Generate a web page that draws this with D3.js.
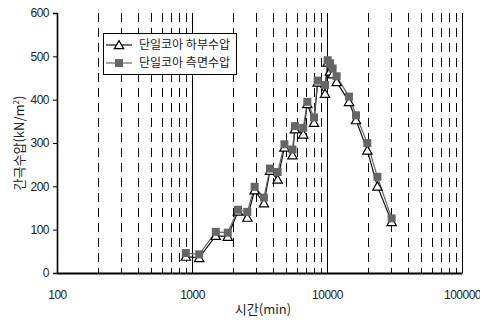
<!DOCTYPE html>
<html>
<head>
<meta charset="utf-8">
<script src="https://cdn.jsdelivr.net/npm/d3@7"></script>
<style>
	body { margin: 0; background: #fff; }
	svg text { font-family: "Liberation Sans", Arial, "Noto Sans CJK KR", sans-serif; fill: #222; }
</style>
</head>
<body>
<div class="Chart"></div>
<script>
var times = [900, 1130, 1500, 1840, 2190, 2570, 2910, 3410, 3780, 4310, 4840, 5550, 5790, 6670, 7150, 8010, 8530, 9670, 10110, 10520, 11010, 11790, 14560, 16400, 19900, 23620, 30130];
var bottomPressure = [38, 35, 86, 84, 142, 128, 191, 161, 236, 216, 290, 272, 332, 320, 390, 347, 440, 414, 486, 465, 459, 441, 395, 353, 283, 200, 118];
var sidePressure = [46, 43, 95, 93, 146, 141, 199, 174, 241, 233, 297, 285, 339, 335, 395, 359, 444, 434, 491, 484, 472, 454, 407, 364, 300, 222, 126];
var yTicks = [0, 100, 200, 300, 400, 500, 600];
var xTicks = [100, 1000, 10000, 100000];
var seriesNames = ["단일코아 하부수압", "단일코아 측면수압"];

var width = 480, height = 325;
var margin = {left: 57, right: 18, top: 13, bottom: 52};

var svg = d3.select('.Chart').append('svg')
	.attr('width', width)
	.attr('height', height);

var x = d3.scaleLog().domain([100, 100000]).range([margin.left, width - margin.right]);
var y = d3.scaleLinear().domain([0, 600]).range([height - margin.bottom, margin.top]);

//vertical grid lines, dashed for the minor ones
var gridVals = [];
[100, 1000, 10000].forEach(function(dec){
	for (var k = 2; k <= 9; k++) gridVals.push(dec * k);
});
svg.append('g').selectAll('line')
	.data(gridVals)
	.enter().append('line')
	.attr('x1', function(d){ return Math.round(x(d)) + 0.5; })
	.attr('x2', function(d){ return Math.round(x(d)) + 0.5; })
	.attr('y1', y(600))
	.attr('y2', y(0))
	.style('stroke', '#000')
	.style('stroke-width', 1)
	.style('stroke-dasharray', '9,6');

svg.append('g').selectAll('line')
	.data([1000, 10000, 100000])
	.enter().append('line')
	.attr('x1', function(d){ return Math.round(x(d)) + 0.5; })
	.attr('x2', function(d){ return Math.round(x(d)) + 0.5; })
	.attr('y1', y(600))
	.attr('y2', y(0))
	.style('stroke', '#000')
	.style('stroke-width', 1);

//axes
var yAxis = svg.append('g')
	.attr('transform', 'translate(' + margin.left + ',0)')
	.call(d3.axisLeft(y).tickValues(yTicks).tickSize(4).tickPadding(4).tickFormat(d3.format('d')));
yAxis.select('.domain').style('stroke-width', 1.6);
yAxis.selectAll('text').style('font-size', '12px').style('letter-spacing', '-0.5px');

var xAxis = svg.append('g')
	.attr('transform', 'translate(0,' + y(0) + ')')
	.call(d3.axisBottom(x).tickValues(xTicks).tickSize(0).tickPadding(17).tickFormat(d3.format('d')));
xAxis.select('.domain').style('stroke-width', 2);
xAxis.selectAll('text').style('font-size', '12px').style('letter-spacing', '-0.5px');

//series
var bottomData = times.map(function(t, i){ return {t: t, v: bottomPressure[i]}; });
var sideData = times.map(function(t, i){ return {t: t, v: sidePressure[i]}; });

var line = d3.line()
	.x(function(d){ return x(d.t); })
	.y(function(d){ return y(d.v); });

var tri = d3.symbol().type(d3.symbolTriangle).size(38);
var sq = d3.symbol().type(d3.symbolSquare).size(64);

svg.append('path')
	.datum(bottomData)
	.attr('d', line)
	.style('fill', 'none')
	.style('stroke', '#111')
	.style('stroke-width', 1.2);

svg.append('path')
	.datum(sideData)
	.attr('d', line)
	.style('fill', 'none')
	.style('stroke', '#666')
	.style('stroke-width', 1.2);

svg.append('g').selectAll('path')
	.data(bottomData)
	.enter().append('path')
	.attr('d', tri)
	.attr('transform', function(d){ return 'translate(' + x(d.t) + ',' + (y(d.v) + 1) + ')'; })
	.style('fill', '#fff')
	.style('stroke', '#000')
	.style('stroke-width', 1.2);

svg.append('g').selectAll('path')
	.data(sideData)
	.enter().append('path')
	.attr('d', sq)
	.attr('transform', function(d){ return 'translate(' + x(d.t) + ',' + y(d.v) + ')'; })
	.style('fill', '#666')
	.style('stroke', 'none');

//legend
var legend = svg.append('g').attr('transform', 'translate(103,33)');
legend.append('rect')
	.attr('x', 0.5)
	.attr('y', 0.5)
	.attr('width', 133)
	.attr('height', 41)
	.style('fill', '#fff')
	.style('stroke', '#000')
	.style('stroke-width', 1);

seriesNames.forEach(function(name, i){
	var ly = 12 + i * 18;
	legend.append('line')
		.attr('x1', 3).attr('x2', 29)
		.attr('y1', ly).attr('y2', ly)
		.style('stroke', i === 0 ? '#111' : '#666')
		.style('stroke-width', 1.2);
	legend.append('path')
		.attr('d', i === 0 ? tri : sq)
		.attr('transform', 'translate(16,' + (ly + (i === 0 ? 1 : 0)) + ')')
		.style('fill', i === 0 ? '#fff' : '#666')
		.style('stroke', i === 0 ? '#000' : 'none')
		.style('stroke-width', 1.2);
	legend.append('text')
		.attr('x', 36)
		.attr('y', ly)
		.attr('dy', '.35em')
		.style('font-family', '"Noto Sans CJK KR", sans-serif')
		.style('font-size', '12px')
		.text(name);
});

//axis titles
svg.append('text')
	.attr('transform', 'translate(19,' + ((y(0) + y(600)) / 2) + ') rotate(-90)')
	.attr('text-anchor', 'middle')
	.attr('dy', '.35em')
	.style('font-family', '"Noto Sans CJK KR", sans-serif')
	.style('font-size', '13px')
	.html('간극수압(kN/m<tspan dy="-5" font-size="8">2</tspan><tspan dy="5">)</tspan>');

svg.append('text')
	.attr('x', 263)
	.attr('y', 314)
	.attr('text-anchor', 'middle')
	.style('font-family', '"Noto Sans CJK KR", sans-serif')
	.style('font-size', '13px')
	.text('시간(min)');
</script>
</body>
</html>
